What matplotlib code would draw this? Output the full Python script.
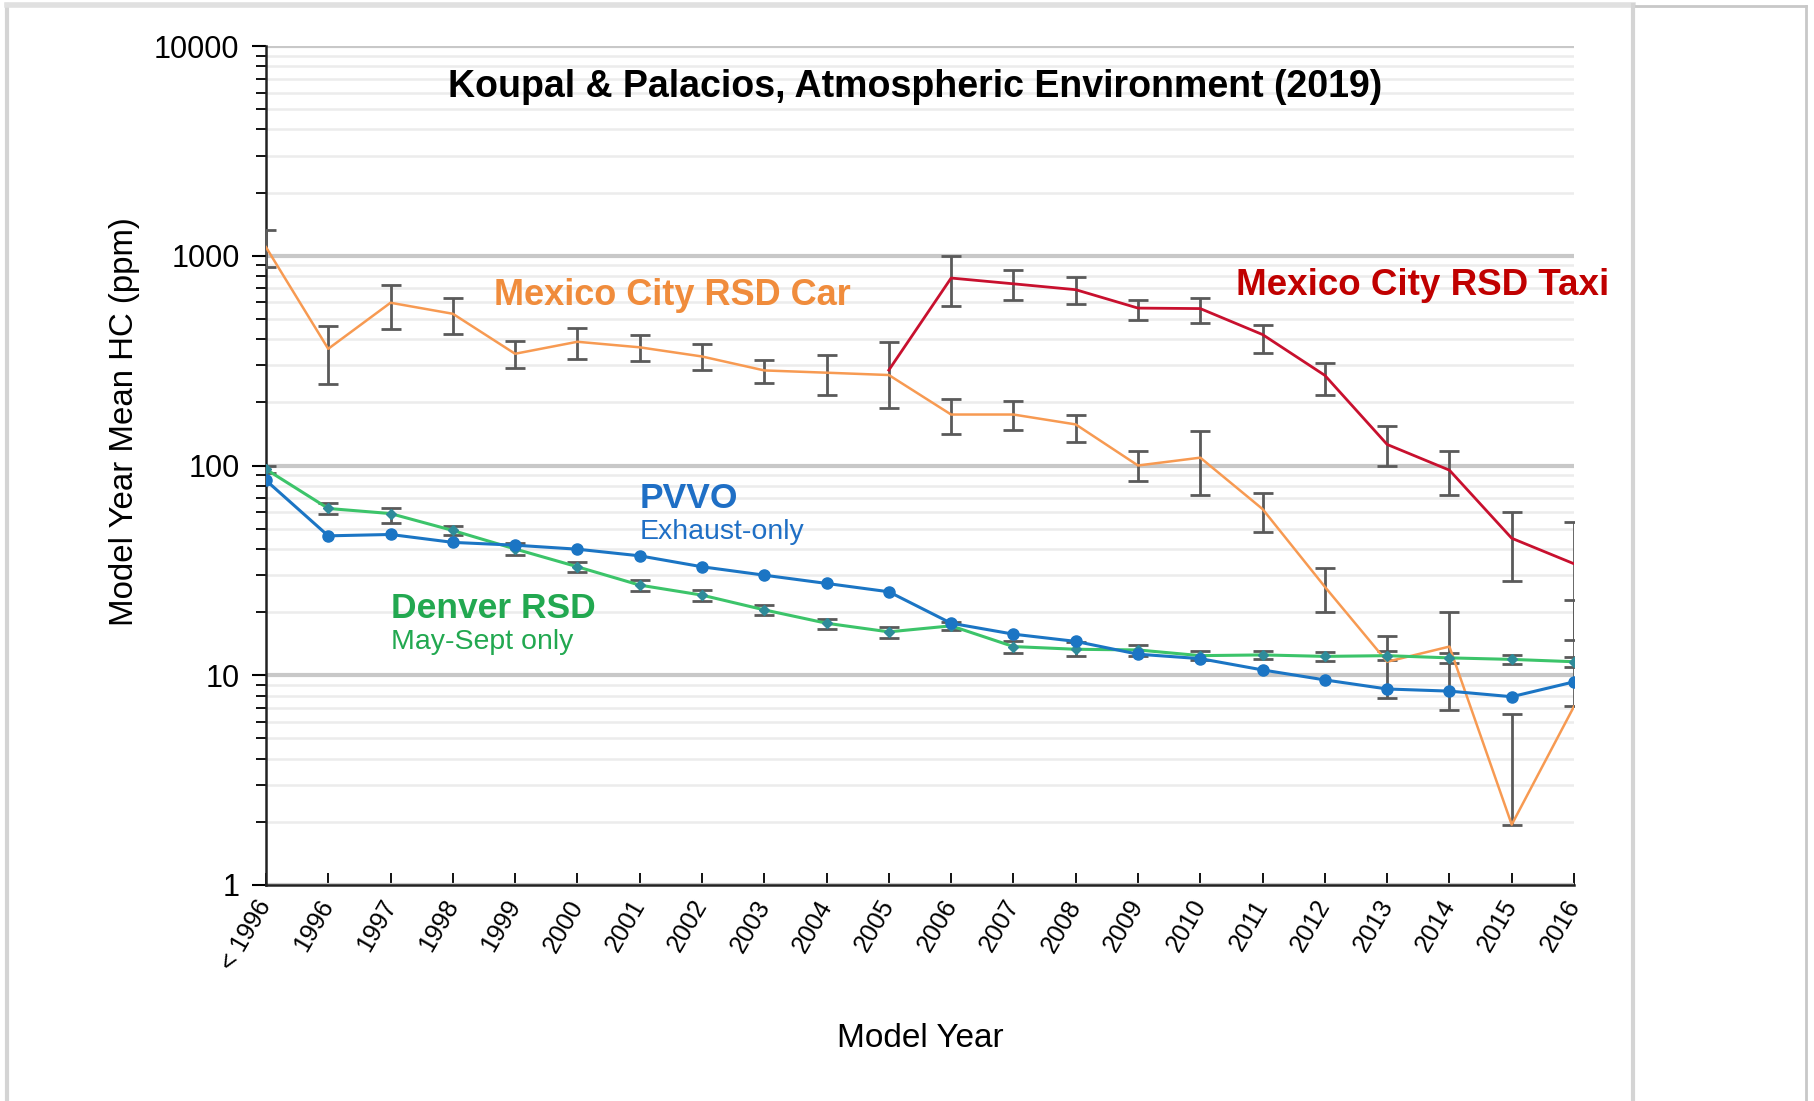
import numpy as np
import matplotlib
matplotlib.use("Agg")
import matplotlib.pyplot as plt
from matplotlib.lines import Line2D
from matplotlib.ticker import LogLocator, NullFormatter, FixedLocator

plt.rcParams['font.family'] = ['Liberation Sans', 'DejaVu Sans']

years = ["< 1996", "1996", "1997", "1998", "1999", "2000", "2001", "2002", "2003",
         "2004", "2005", "2006", "2007", "2008", "2009", "2010", "2011", "2012",
         "2013", "2014", "2015", "2016"]

# Mexico City RSD Car
car = [1100, 360, 597, 529, 341, 389, 366, 331, 284, 277, 270, 175, 175, 157, 100,
       109, 62, 26.4, 11.6, 13.7, 1.94, 7.1]
car_hi = [1320, 464, 727, 631, 394, 454, 421, 380, 318, 335, 390, 208, 202, 175, 117,
          146, 74, 32.4, 15.4, 20.1, 6.5, 22.8]
car_lo = [880, 245, 449, 425, 293, 323, 314, 284, 247, 217, 187, 142, 147, 130, 84,
          72, 48, 20.1, 7.8, 6.8, 1.94, 7.1]

# Mexico City RSD Taxi (2005 onward)
taxi_years = years[10:]
taxi = [285, 783, 735, 689, 563, 560, 421, 269, 126, 95, 45, 34]
taxi_hi = [285, 1000, 851, 796, 612, 628, 466, 309, 155, 117, 60, 53.5]
taxi_lo = [285, 574, 612, 591, 492, 480, 345, 218, 100, 72, 28, 14.7]

# Denver RSD
denver = [96, 62.4, 59, 49, 40, 32.9, 26.9, 24.1, 20.5, 17.7, 16.1, 17.2, 13.7, 13.3,
          13.2, 12.4, 12.5, 12.3, 12.4, 12.1, 11.9, 11.6]
denver_hi = [100, 65.9, 62.4, 51.6, 42.5, 34.8, 28.4, 25.5, 21.6, 18.5, 16.9, 18.0,
             14.5, 14.4, 13.9, 13.0, 13.1, 12.9, 13.0, 12.7, 12.5, 12.2]
denver_lo = [92, 58.4, 53.3, 46.5, 37.6, 31.1, 25.3, 22.7, 19.4, 16.7, 15.0, 16.4,
             12.7, 12.3, 12.3, 11.8, 11.9, 11.7, 11.8, 11.5, 11.3, 11.0]

# PVVO
pvvo = [85, 46.2, 46.9, 43.0, 41.7, 39.9, 37.1, 32.9, 30.0, 27.4, 25.0, 17.7, 15.7,
        14.5, 12.6, 12.0, 10.6, 9.5, 8.6, 8.4, 7.9, 9.3]

c_car, c_taxi, c_pvvo, c_den = "#F79A52", "#C8102E", "#1B75C4", "#3CC46A"
c_err = "#5a5a5a"

fig = plt.figure(figsize=(18.14, 11.01), dpi=100)
ax = fig.add_axes([0.1466, 0.1962, 0.8677 - 0.1466, 0.9582 - 0.1962])

x = np.arange(len(years))
xt = x[10:]

ax.set_yscale("log")
ax.set_ylim(1, 10000)
ax.set_xlim(0, len(years) - 1)

# gridlines
ax.yaxis.set_major_locator(FixedLocator([1, 10, 100, 1000, 10000]))
ax.yaxis.set_minor_locator(LogLocator(base=10, subs=np.arange(2, 10)))
ax.yaxis.set_minor_formatter(NullFormatter())
ax.grid(True, which="major", axis="y", color="#c8c8c8", lw=3, zorder=0)
ax.grid(True, which="minor", axis="y", color="#ececec", lw=1.8, zorder=0)
ax.set_yticklabels(["1", "10", "100", "1000", "10000"])

def err(vals, lo, hi):
    v = np.array(vals, float)
    return [v - np.array(lo, float), np.array(hi, float) - v]

ekw = dict(ecolor=c_err, elinewidth=2, capsize=7, capthick=2, zorder=3)

ax.plot(x, car, color=c_car, lw=1.8, zorder=4)
ax.errorbar(x, car, yerr=err(car, car_lo, car_hi), fmt="none", **ekw)

ax.plot(xt, taxi, color=c_taxi, lw=2, zorder=4)
ax.errorbar(xt[1:], taxi[1:], yerr=err(taxi[1:], taxi_lo[1:], taxi_hi[1:]), fmt="none", **ekw)

ax.errorbar(x, denver, yerr=err(denver, denver_lo, denver_hi), fmt="none", **ekw)
ax.plot(x, denver, color=c_den, lw=2.2, marker="D", ms=5, mfc="#2E8B9A", mec="#2E8B9A", zorder=5)

ax.plot(x, pvvo, color=c_pvvo, lw=2.2, marker="o", ms=8, mfc=c_pvvo, mec=c_pvvo, zorder=6)

ax.set_xticks(x)
ax.set_xticklabels(years, rotation=60, ha="right", va="center", rotation_mode="anchor",
                   fontsize=18)
ax.tick_params(axis="x", direction="in", length=9, width=1.3, pad=12)
ax.tick_params(axis="y", which="major", direction="out", length=10, width=1.5,
               labelsize=22, pad=9)
ax.tick_params(axis="y", which="minor", direction="out", length=7, width=1.3)

for s in ["top", "right"]:
    ax.spines[s].set_visible(False)
for s in ["left", "bottom"]:
    ax.spines[s].set_linewidth(1.8)
    ax.spines[s].set_color("#222222")

# labels
fig.text(0.5044, 0.921, "Koupal & Palacios, Atmospheric Environment (2019)",
         ha="center", va="center", fontsize=27, fontweight="bold")
fig.text(0.2723, 0.7312, "Mexico City RSD Car", color="#F08C3C", fontsize=26,
         fontweight="bold", ha="left", va="center")
fig.text(0.6814, 0.7411, "Mexico City RSD Taxi", color="#C00000", fontsize=26.5,
         fontweight="bold", ha="left", va="center")
fig.text(0.3528, 0.5468, "PVVO", color="#1F6FC5", fontsize=25.5, fontweight="bold",
         ha="left", va="center")
fig.text(0.3528, 0.5168, "Exhaust-only", color="#1F6FC5", fontsize=20.5,
         ha="left", va="center")
fig.text(0.2155, 0.4469, "Denver RSD", color="#22A850", fontsize=25.5, fontweight="bold",
         ha="left", va="center")
fig.text(0.2155, 0.4169, "May-Sept only", color="#22A850", fontsize=20.5,
         ha="left", va="center")

fig.text(0.0684, 0.6167, "Model Year Mean HC (ppm)", rotation=90, ha="center",
         va="center", fontsize=23.8)
fig.text(0.5072, 0.0572, "Model Year", ha="center", va="center", fontsize=24)

# panel frame
def fline(x0, y0, x1, y1, color="#d4d4d4", lw=3):
    fig.add_artist(Line2D([x0 / 1814, x1 / 1814], [1 - y0 / 1101, 1 - y1 / 1101],
                          color=color, lw=lw, transform=fig.transFigure))

fline(7, 5, 7, 1101)
fline(7, 5, 1633, 5, color="#e0e0e0", lw=4)
fline(1633, 5, 1633, 1101)
fline(1636, 6, 1806, 6, color="#c8c8c8", lw=2)
fline(1806, 6, 1806, 1101, color="#c8c8c8", lw=2)

fig.savefig("out.png", dpi=100)
